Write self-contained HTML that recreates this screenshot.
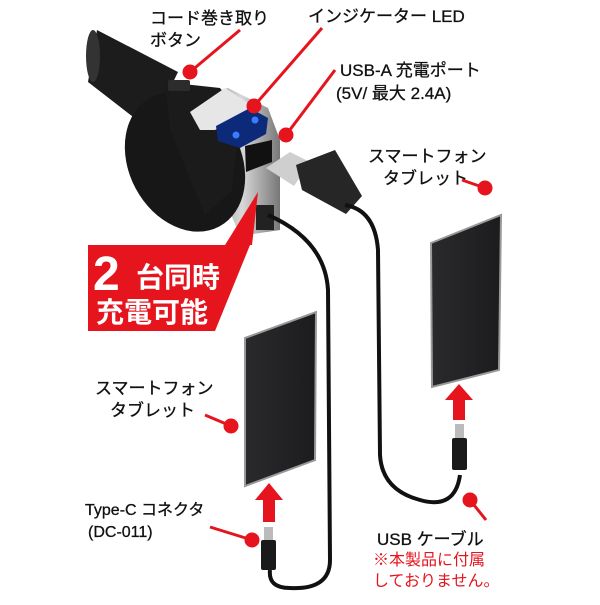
<!DOCTYPE html>
<html><head><meta charset="utf-8"><style>
body{margin:0;background:#fff;}
svg text{font-family:"Liberation Sans","Noto Sans CJK JP",sans-serif;}
</style></head><body>
<svg width="600" height="600" viewBox="0 0 600 600" xmlns="http://www.w3.org/2000/svg">
<defs>
<linearGradient id="ph" x1="0" y1="0" x2="1" y2="0"><stop offset="0" stop-color="#2a2a2c"/><stop offset="1" stop-color="#1c1c1e"/></linearGradient>
<linearGradient id="sil" x1="0" y1="0" x2="1" y2="0"><stop offset="0" stop-color="#666"/><stop offset="0.6" stop-color="#d8d8d8"/><stop offset="1" stop-color="#777"/></linearGradient>
</defs>
<!-- charger tube -->
<polygon points="97,30 178,72 150,130 88,82" fill="#1c1c1c"/>
<ellipse cx="93" cy="56" rx="7" ry="26" fill="#333"/>
<!-- silver section -->
<polygon points="185,100 228,88 268,108 280,140 280,230 240,236 225,200" fill="url(#sil)"/>
<!-- body disc -->
<ellipse cx="185" cy="162" rx="56" ry="73" transform="rotate(-28 185 162)" fill="#171717"/>
<polygon points="165,82 220,88 240,115 232,190 205,215 170,130" fill="#1b1b1b"/>
<!-- label plate -->
<polygon points="190,112 225,88 250,104 246,114 215,130 200,130" fill="#e6e6e6"/>
<!-- button -->
<rect x="168" y="80" width="22" height="11" rx="2" fill="#2c2c2c"/>
<!-- LED area -->
<polygon points="216,126 250,108 268,118 266,134 240,148 218,141" fill="#0d2a7a"/>
<circle cx="236" cy="135" r="3.5" fill="#3a7bff"/><circle cx="255" cy="120" r="3.5" fill="#3a7bff"/>
<!-- ports -->
<polygon points="245,146 272,140 272,162 246,172" fill="#111"/>
<rect x="256" y="205" width="18" height="25" fill="#222"/>
<!-- USB plug -->
<polygon points="266,168 290,152 310,162 294,186" fill="#cfcfcf"/>
<polygon points="296,165 335,150 362,196 346,214 302,190" fill="#262626"/>
<!-- cables -->
<path d="M345,205 Q375,210 378,250 L380,455 Q382,490 420,500 Q455,510 460,475" fill="none" stroke="#111" stroke-width="4"/>
<path d="M268,215 Q325,240 328,290 L330,560 Q330,590 290,588 Q268,588 270,570" fill="none" stroke="#111" stroke-width="4"/>
<!-- red badge -->
<polygon points="88,245 225,245 258,192 252,245 250,245 215,331 88,331" fill="#e5141d"/>
<text x="93" y="290" font-size="48" font-weight="bold" fill="#fff">2</text>
<text x="136" y="287" font-size="28" font-weight="bold" fill="#fff">台同時</text>
<text x="96" y="322" font-size="28" font-weight="bold" fill="#fff">充電可能</text>
<!-- phones -->
<polygon points="431,243 501,215 499,370 432,387" fill="url(#ph)" stroke="#999" stroke-width="2"/>
<polygon points="245,338 316,312 315,460 245,486" fill="url(#ph)" stroke="#999" stroke-width="2"/>
<!-- arrows -->
<polygon points="453,420 453,400 445,400 459,384 473,400 465,400 465,420" fill="#e5141d"/>
<polygon points="263,522 263,500 255,500 269,483 283,500 275,500 275,522" fill="#e5141d"/>
<!-- type-c plugs -->
<rect x="455" y="424" width="9" height="14" fill="#bbb"/><rect x="452" y="438" width="15" height="32" rx="2" fill="#1a1a1a"/>
<rect x="264" y="527" width="9" height="13" fill="#bbb"/><rect x="261" y="540" width="15" height="30" rx="2" fill="#1a1a1a"/>
<!-- leaders -->
<g stroke="#e5141d" stroke-width="3" fill="#e5141d">
<line x1="190" y1="72" x2="240" y2="30"/><circle cx="190" cy="72" r="6"/>
<line x1="254" y1="106" x2="322" y2="28"/><circle cx="254" cy="106" r="6"/>
<line x1="286" y1="135" x2="335" y2="70"/><circle cx="286" cy="135" r="6"/>
<line x1="462" y1="180" x2="485" y2="188"/><circle cx="485" cy="188" r="6"/>
<line x1="205" y1="415" x2="231" y2="426"/><circle cx="231" cy="426" r="6"/>
<line x1="210" y1="527" x2="252" y2="540"/><circle cx="252" cy="540" r="6"/>
<line x1="470" y1="500" x2="486" y2="520"/><circle cx="470" cy="500" r="6"/>
</g>
<!-- labels -->
<g fill="#111" font-size="17" stroke="#111" stroke-width="0.3">
<text x="150" y="24">コード巻き取り</text>
<text x="150" y="46">ボタン</text>
<text x="308" y="22">インジケーター LED</text>
<text x="340" y="76">USB-A 充電ポート</text>
<text x="336" y="99">(5V/ 最大 2.4A)</text>
<text x="368" y="162">スマートフォン</text>
<text x="383" y="184">タブレット</text>
<text x="95" y="394">スマートフォン</text>
<text x="110" y="416">タブレット</text>
<text x="85" y="515" font-size="16">Type-C コネクタ</text>
<text x="88" y="537" font-size="16">(DC-011)</text>
<text x="377" y="545">USB ケーブル</text>
</g>
<text x="373" y="565" font-size="16" fill="#e5141d">※本製品に付属</text>
<text x="373" y="586" font-size="16" fill="#e5141d">しておりません。</text>
</svg>
</body></html>
